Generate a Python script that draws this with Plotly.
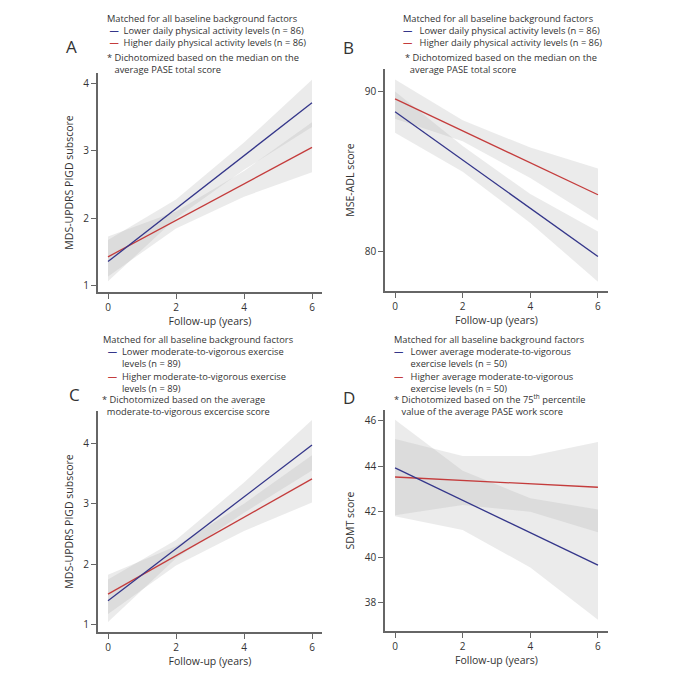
import plotly.graph_objects as go

# ---------------- data ----------------
FIT_YEARS = [0, 6]
CI_YEARS = [0, 2, 4, 6]

# Panel A: MDS-UPDRS PIGD subscore, daily physical activity
a_low_fit = [1.36, 3.71]
a_high_fit = [1.43, 3.05]
a_low_lo = [1.07, 2.00, 2.72, 3.35]
a_low_hi = [1.68, 2.28, 3.12, 4.05]
a_high_lo = [1.14, 1.85, 2.32, 2.68]
a_high_hi = [1.73, 2.10, 2.70, 3.42]

# Panel B: MSE-ADL score
b_low_fit = [88.73, 79.71]
b_high_fit = [89.54, 83.56]
b_low_lo = [87.42, 85.00, 81.80, 78.14]
b_low_hi = [90.00, 86.60, 83.60, 81.27]
b_high_lo = [88.30, 86.90, 84.60, 81.95]
b_high_hi = [90.75, 88.20, 86.50, 85.20]

# Panel C: MDS-UPDRS PIGD subscore, moderate-to-vigorous exercise
c_low_fit = [1.40, 3.97]
c_high_fit = [1.51, 3.41]
c_low_lo = [1.05, 2.10, 2.85, 3.55]
c_low_hi = [1.75, 2.40, 3.35, 4.38]
c_high_lo = [1.18, 1.98, 2.55, 3.02]
c_high_hi = [1.83, 2.30, 3.00, 3.80]

# Panel D: SDMT score
d_low_fit = [43.93, 39.65]
d_high_fit = [43.53, 43.08]
d_low_lo = [41.80, 41.20, 39.55, 37.25]
d_low_hi = [46.05, 43.80, 42.60, 42.10]
d_high_lo = [41.85, 42.30, 42.00, 41.10]
d_high_hi = [45.20, 44.45, 44.45, 45.07]

X_TICKS = [0, 2, 4, 6]
A_TICKS = [1, 2, 3, 4]
B_TICKS = [80, 90]
C_TICKS = [1, 2, 3, 4]
D_TICKS = [38, 40, 42, 44, 46]

BLUE = "#34368a"
RED = "#c43c3c"
BAND = "rgba(175,175,175,0.25)"
TXT = "#333333"
FONT = "Open Sans"

# the page adds an 8 px body margin, so the figure is 672 px and offset by 8
OFF = 8
W = H = 672


def fx(p):
    return (p - OFF) / W


def fy(p):
    return 1 - (p - OFF) / H


fig = go.Figure()

panels = [
    ("", a_low_fit, a_high_fit, (a_low_lo, a_low_hi), (a_high_lo, a_high_hi),
     (97.8, 322.2), (73, 292), [0.91, 4.15], A_TICKS, "MDS-UPDRS PIGD subscore"),
    ("2", b_low_fit, b_high_fit, (b_low_lo, b_low_hi), (b_high_lo, b_high_hi),
     (384.9, 608.1), (69, 291), [77.56, 91.4], B_TICKS, "MSE-ADL score"),
    ("3", c_low_fit, c_high_fit, (c_low_lo, c_low_hi), (c_high_lo, c_high_hi),
     (97.8, 322.2), (411, 632), [0.884, 4.53], C_TICKS, "MDS-UPDRS PIGD subscore"),
    ("4", d_low_fit, d_high_fit, (d_low_lo, d_low_hi), (d_high_lo, d_high_hi),
     (384.9, 608.1), (410, 631), [36.75, 46.48], D_TICKS, "SDMT score"),
]

for key, lowfit, highfit, lowci, highci, xd, yd, yr, yt, ytitle in panels:
    xa = "x" + key
    ya = "y" + key
    for lo, hi in (lowci, highci):
        fig.add_trace(go.Scatter(
            x=CI_YEARS + CI_YEARS[::-1], y=hi + lo[::-1],
            fill="toself", fillcolor=BAND, line=dict(width=0),
            mode="lines", hoverinfo="skip", showlegend=False,
            xaxis=xa, yaxis=ya))
    fig.add_trace(go.Scatter(x=FIT_YEARS, y=highfit, mode="lines",
                             line=dict(color=RED, width=1.3), showlegend=False,
                             xaxis=xa, yaxis=ya))
    fig.add_trace(go.Scatter(x=FIT_YEARS, y=lowfit, mode="lines",
                             line=dict(color=BLUE, width=1.3), showlegend=False,
                             xaxis=xa, yaxis=ya))
    common = dict(showgrid=False, zeroline=False, showline=True,
                  linecolor="#666666", linewidth=1.5, ticks="outside",
                  ticklen=5, tickwidth=1.2, tickcolor="#666666",
                  tickfont=dict(family=FONT, size=10, color=TXT))
    fig.layout["xaxis" + key] = dict(
        domain=[fx(xd[0]), fx(xd[1])], anchor=ya, range=[-0.3, 6.3],
        tickvals=X_TICKS,
        title=dict(text="Follow-up (years)", standoff=0,
                   font=dict(family=FONT, size=10.5, color=TXT)),
        **common)
    fig.layout["yaxis" + key] = dict(
        domain=[fy(yd[1]), fy(yd[0])], anchor=xa, range=yr,
        tickvals=yt,
        title=dict(text=ytitle, standoff=8,
                   font=dict(family=FONT, size=10.5, color=TXT)),
        **common)

ann = []
NOTE = 9.3
NB = "\u00a0"


def block(x, y, lines, size=NOTE):
    ann.append(dict(x=fx(x - 2), y=fy(y), xref="paper", yref="paper",
                    text="<br>".join(lines), showarrow=False,
                    xanchor="left", yanchor="middle", align="left",
                    borderpad=0,
                    font=dict(family=FONT, size=size, color=TXT)))


def dash(color, gap=2):
    return '<span style="color:%s"><b>—</b></span>%s' % (color, NB * gap)


def hidden(s):
    return '<span style="color:#ffffff">%s</span>' % s


# Panel letters
block(67, 46, ["A"], 17)
block(344, 47, ["B"], 17)
block(70, 395, ["C"], 17)
block(344, 397, ["D"], 17)

# Panel A notes
block(108, 31, [
    "Matched for all baseline background factors",
    NB + dash(BLUE) + "Lower daily physical activity levels (n = 86)",
    NB + dash(RED) + "Higher daily physical activity levels (n = 86)",
])
block(108, 63, [
    "* Dichotomized based on the median on the",
    hidden("*") + NB + "average PASE total score",
])

# Panel B notes
block(404, 31, [
    "Matched for all baseline background factors",
    dash(BLUE, 3) + "Lower daily physical activity levels (n = 86)",
    dash(RED, 3) + "Higher daily physical activity levels (n = 86)",
])
block(406, 63, [
    "* Dichotomized based on the median on the",
    NB + NB + "average PASE total score",
])

# Panel C notes
block(104, 351.5, [
    "Matched for all baseline background factors",
    NB + NB + dash(BLUE) + "Lower moderate-to-vigorous exercise",
    NB + NB + dash("#ffffff") + "levels (n = 89)",
])
block(104, 382.5, [
    NB + NB + dash(RED) + "Higher moderate-to-vigorous exercise",
    NB + NB + dash("#ffffff") + "levels (n = 89)",
])
block(103, 405, [
    "* Dichotomized based on the average",
    NB + NB + "moderate-to-vigorous excercise score",
])

# Panel D notes
block(395, 351.5, [
    "Matched for all baseline background factors",
    dash(BLUE, 3) + "Lower average moderate-to-vigorous",
    dash("#ffffff", 3) + "exercise levels (n = 50)",
])
block(395, 382.5, [
    dash(RED, 3) + "Higher average moderate-to-vigorous",
    dash("#ffffff", 3) + "exercise levels (n = 50)",
])
block(395, 405.5, [
    "* Dichotomized based on the 75<sup>th</sup> percentile",
    hidden("*") + NB + "value of the average PASE work score",
])

fig.update_layout(
    width=W, height=H, margin=dict(l=0, r=0, t=0, b=0),
    paper_bgcolor="white", plot_bgcolor="white",
    showlegend=False, annotations=ann,
    font=dict(family=FONT, color=TXT),
)

fig.write_html("out.html")
